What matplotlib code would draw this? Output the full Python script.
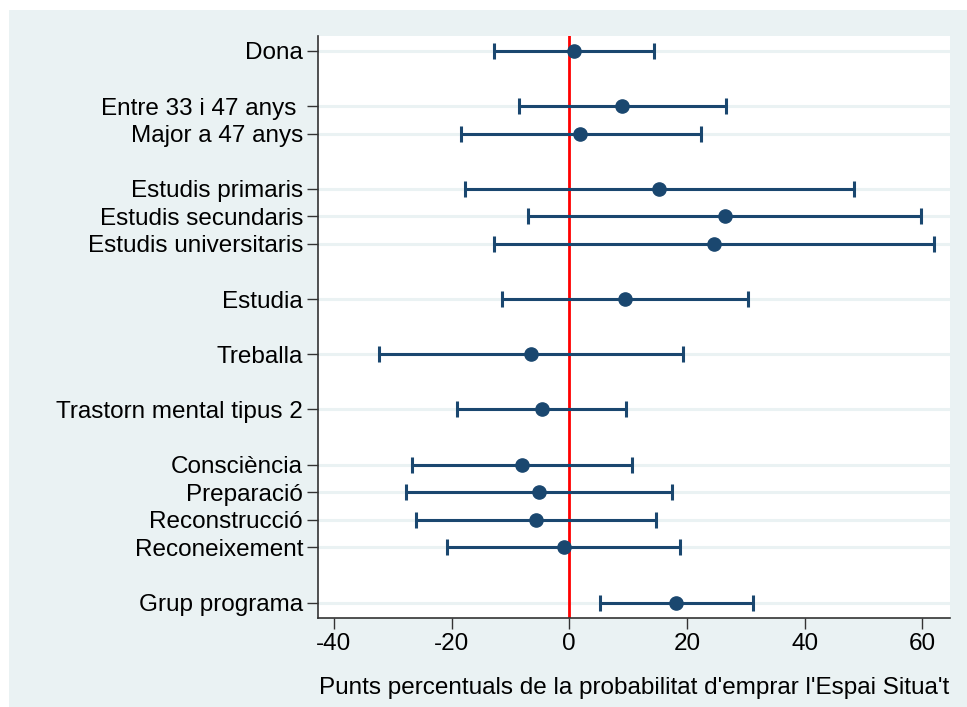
import matplotlib
matplotlib.use("Agg")
import matplotlib.pyplot as plt
from matplotlib.patches import Rectangle

plt.rcParams['font.family'] = ['Liberation Sans', 'DejaVu Sans']

# Coefficient estimates with 95% intervals (percentage points)
labels = ["Dona", "Entre 33 i 47 anys ", "Major a 47 anys",
          "Estudis primaris", "Estudis secundaris", "Estudis universitaris",
          "Estudia", "Treballa", "Trastorn mental tipus 2",
          "Consciència", "Preparació", "Reconstrucció", "Reconeixement",
          "Grup programa"]
positions = [1, 3, 4, 6, 7, 8, 10, 12, 14, 16, 17, 18, 19, 21]
coef = [0.74, 8.96, 1.82, 15.3, 26.4, 24.6, 9.41, -6.5, -4.64,
        -8.04, -5.2, -5.72, -0.9, 18.13]
ci_low = [-12.8, -8.6, -18.45, -17.67, -6.96, -12.74, -11.38, -32.3, -19.0,
          -26.8, -27.7, -26.0, -20.7, 5.22]
ci_high = [14.44, 26.7, 22.4, 48.4, 59.8, 62.0, 30.37, 19.32, 9.63,
           10.65, 17.5, 14.7, 18.8, 31.16]
xticks = [-40, -20, 0, 20, 40, 60]

navy = "#1a476f"
bg = "#eaf2f3"
fs = 17.5

W, H = 967, 707
fig = plt.figure(figsize=(W / 100, H / 100), dpi=100, facecolor="white")
# light graph region, leaving a thin white strip on the top and left
fig.add_artist(Rectangle((9 / W, 0), 1 - 9 / W, 1 - 10 / H,
                         transform=fig.transFigure, facecolor=bg,
                         edgecolor="none", zorder=-10))

ax = fig.add_axes([318.3 / W, 1 - 617.7 / H, (950 - 318.3) / W, (617.7 - 35.7) / H])
ax.set_facecolor("white")

for p in positions:
    ax.axhline(p, color=bg, lw=2.2, zorder=1)

ax.axvline(0, color="#ff0000", lw=2, zorder=2)

err_lo = [c - l for c, l in zip(coef, ci_low)]
err_hi = [h - c for c, h in zip(coef, ci_high)]
ax.errorbar(coef, positions, xerr=[err_lo, err_hi], fmt="o", color=navy,
            ecolor=navy, elinewidth=2.2, capsize=5.5, capthick=2.2,
            markersize=9.5, zorder=3)

ax.set_xlim(-42.65, 64.7)
ax.set_ylim(21.55, 0.45)
ax.set_yticks(positions)
ax.set_yticklabels(labels, fontsize=fs)
ax.set_xticks(xticks)
ax.set_xticklabels([str(t) for t in xticks], fontsize=fs)
ax.tick_params(axis="both", length=8, width=1, color="#333333", pad=3)

for side in ["top", "right"]:
    ax.spines[side].set_visible(False)
for side in ["left", "bottom"]:
    ax.spines[side].set_color("#333333")
    ax.spines[side].set_linewidth(1.2)

ax.set_xlabel("Punts percentuals de la probabilitat d'emprar l'Espai Situa't",
              fontsize=fs, labelpad=16)

fig.savefig("out.png", dpi=100, facecolor=fig.get_facecolor())
